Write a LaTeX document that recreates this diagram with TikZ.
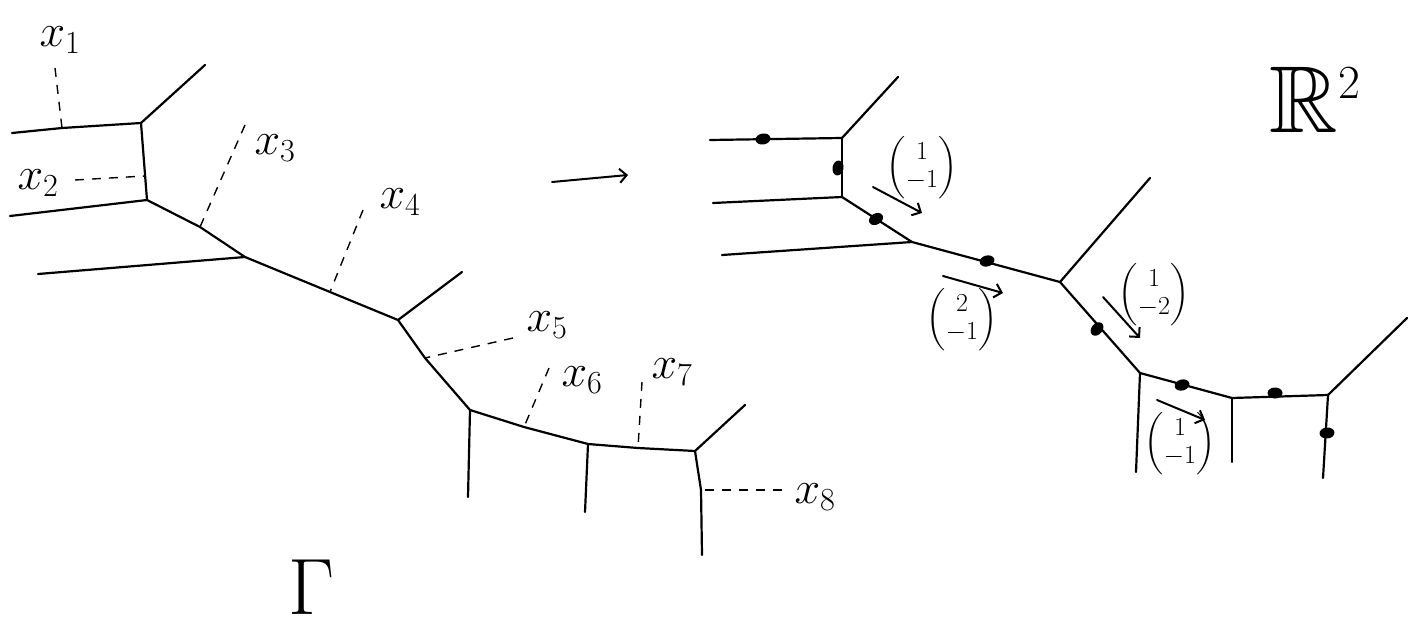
\RequirePackage{fix-cm}
\documentclass[tikz,border=0pt]{standalone}
\usepackage{amsmath,amssymb}
\usetikzlibrary{arrows.meta,shapes.geometric}
\begin{document}
\begin{tikzpicture}[x=1pt,y=-1pt,
 edge/.style={line width=2.2pt,line cap=round,line join=round},
 dsh/.style={line width=1.4pt,dash pattern=on 9pt off 8pt},
 lab/.style={font=\fontsize{46}{46}\selectfont,inner sep=0pt},
 vec/.style={font=\fontsize{26}{28}\selectfont,inner sep=0pt},
 arr/.style={line width=2pt,line cap=round,-{Straight Barb[length=7pt,width=14pt]}},
 pt/.style={ellipse,fill=black,minimum width=15pt,minimum height=11pt,inner sep=0pt}]
\useasboundingbox (0,0) rectangle (1415,626);
% ---------- left graph Gamma ----------
\coordinate (a1) at (141,123);
\coordinate (a1l) at (12,133);
\coordinate (a1r) at (205,65);
\coordinate (p1) at (62,128);
\coordinate (a2) at (147,200);
\coordinate (a2l) at (10,216);
\coordinate (p2) at (145,176);
\coordinate (p3) at (200,227);
\coordinate (a3) at (245,257);
\coordinate (a3l) at (38,274);
\coordinate (p4) at (330,292);
\coordinate (a4) at (398,320);
\coordinate (a4r) at (462,272);
\coordinate (p5) at (425,358);
\coordinate (a5) at (470,410);
\coordinate (a5d) at (468,497);
\coordinate (p6) at (524,427);
\coordinate (a6) at (588,444);
\coordinate (a6d) at (585,512);
\coordinate (p7) at (638,448);
\coordinate (a7) at (695,451);
\coordinate (a7r) at (745,405);
\coordinate (a7d) at (702,555);
\coordinate (p8) at (701,490);
\draw[edge] (a1l) -- (p1) -- (a1) -- (a1r);
\draw[edge] (a1) -- (a2);
\draw[edge] (a2l) -- (a2);
\draw[edge] (a2) -- (p3) -- (a3) -- (p4) -- (a4) -- (a4r);
\draw[edge] (a3l) -- (a3);
\draw[edge] (a4) -- (p5) -- (a5) -- (p6) -- (a6) -- (p7) -- (a7) -- (a7r);
\draw[edge] (a5) -- (a5d);
\draw[edge] (a6) -- (a6d);
\draw[edge] (a7) -- (p8) -- (a7d);
% labels x_i
\node[lab] (x1) at (60,40) {$x_1$};
\node[lab] (x2) at (38,183) {$x_2$};
\node[lab] (x3) at (275,148) {$x_3$};
\node[lab] (x4) at (400,202) {$x_4$};
\node[lab] (x5) at (547,325) {$x_5$};
\node[lab] (x6) at (582,380) {$x_6$};
\node[lab] (x7) at (672,372) {$x_7$};
\node[lab] (x8) at (815,497) {$x_8$};
\coordinate (d1) at (55,68);
\coordinate (d2) at (75,180);
\coordinate (d3) at (245,125);
\coordinate (d4) at (363,210);
\coordinate (d5) at (513,338);
\coordinate (d6) at (549,368);
\coordinate (d7) at (642,382);
\coordinate (d8) at (782,490);
\draw[dsh] (d1) -- (p1);
\draw[dsh] (d2) -- (p2);
\draw[dsh] (d3) -- (p3);
\draw[dsh] (d4) -- (p4);
\draw[dsh] (d5) -- (p5);
\draw[dsh] (d6) -- (p6);
\draw[dsh] (d7) -- (p7);
\draw[dsh] (d8) -- (p8);
\node[font=\fontsize{80}{80}\selectfont,inner sep=0pt,anchor=base] (G) at (312,614) {$\Gamma$};
% ---------- map arrow ----------
\coordinate (m1) at (552,182);
\coordinate (m2) at (628,175);
\draw[arr] (m1) -- (m2);
% ---------- right graph in R^2 ----------
\coordinate (b1) at (842,138);
\coordinate (b1l) at (710,140);
\coordinate (b1r) at (898,77);
\coordinate (b2) at (842,197);
\coordinate (b2l) at (713,203);
\coordinate (b3) at (912,242);
\coordinate (b3l) at (722,255);
\coordinate (b4) at (1060,282);
\coordinate (b4r) at (1150,178);
\coordinate (b5) at (1140,373);
\coordinate (b5d) at (1136,472);
\coordinate (b6) at (1232,398);
\coordinate (b6d) at (1232,462);
\coordinate (b7) at (1328,395);
\coordinate (b7r) at (1407,318);
\coordinate (b7d) at (1323,478);
\draw[edge] (b1l) -- (b1) -- (b1r);
\draw[edge] (b1) -- (b2);
\draw[edge] (b2l) -- (b2);
\draw[edge] (b2) -- (b3) -- (b4) -- (b4r);
\draw[edge] (b3l) -- (b3);
\draw[edge] (b4) -- (b5) -- (b6) -- (b7) -- (b7r);
\draw[edge] (b5) -- (b5d);
\draw[edge] (b6) -- (b6d);
\draw[edge] (b7) -- (b7d);
\node[pt,rotate=10] (q1) at (763,139) {};
\node[pt,rotate=80] (q2) at (838,168) {};
\node[pt,rotate=30] (q3) at (876,219) {};
\node[pt,rotate=15] (q4) at (987,261) {};
\node[pt,rotate=50] (q5) at (1097,329) {};
\node[pt,rotate=15] (q6) at (1182,385) {};
\node[pt,rotate=0] (q7) at (1275,393) {};
\node[pt,rotate=5] (q8) at (1327,433) {};
% direction vectors
\node[vec] (v1) at (922,168) {$\begin{pmatrix}1\\-1\end{pmatrix}$};
\coordinate (e1s) at (873,187);
\coordinate (e1t) at (922,213);
\draw[arr] (e1s) -- (e1t);
\node[vec] (v2) at (962,320) {$\begin{pmatrix}2\\-1\end{pmatrix}$};
\coordinate (e2s) at (943,276);
\coordinate (e2t) at (1003,293);
\draw[arr] (e2s) -- (e2t);
\node[vec] (v3) at (1154,295) {$\begin{pmatrix}1\\-2\end{pmatrix}$};
\coordinate (e3s) at (1103,297);
\coordinate (e3t) at (1140,338);
\draw[arr] (e3s) -- (e3t);
\node[vec] (v4) at (1180,444) {$\begin{pmatrix}1\\-1\end{pmatrix}$};
\coordinate (e4s) at (1157,400);
\coordinate (e4t) at (1205,420);
\draw[arr] (e4s) -- (e4t);
\node[font=\fontsize{95}{95}\selectfont,inner sep=0pt] (R) at (1315,100) {$\mathbb{R}^{\scriptscriptstyle 2}$};
\end{tikzpicture}
\end{document}
